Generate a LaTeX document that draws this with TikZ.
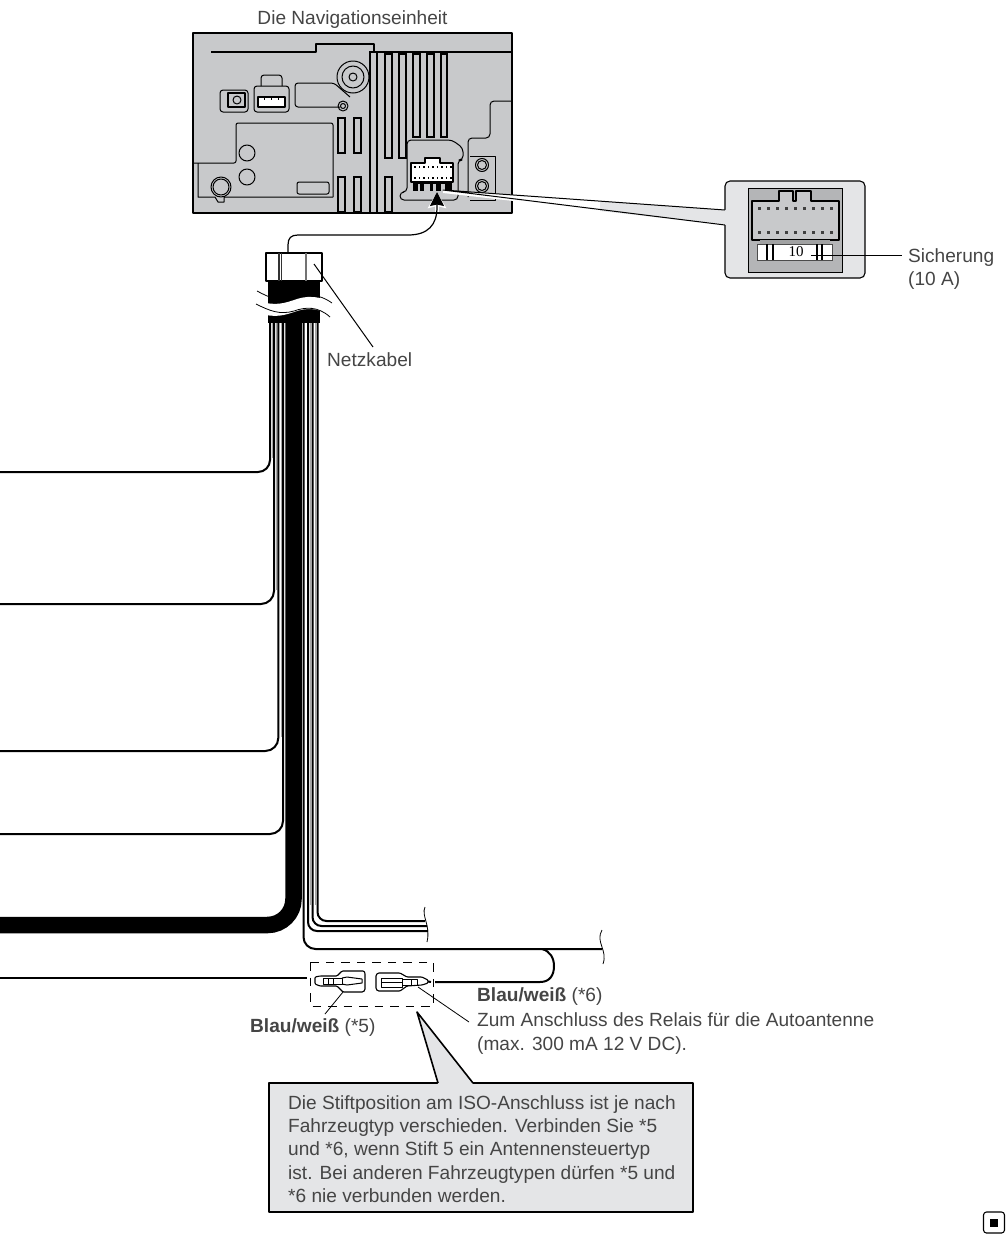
\documentclass[tikz,border=0pt]{standalone}
\usepackage{fontspec}
\setmainfont{Liberation Sans}
\newfontfamily\fuseface{Liberation Serif}
\usepackage{xcolor}
\usetikzlibrary{arrows.meta}
\usetikzlibrary{positioning}
\definecolor{unitgray}{HTML}{C8C9CB}
\definecolor{darkgray}{HTML}{B4B5B7}
\definecolor{boxgray}{HTML}{E4E5E7}
\definecolor{inkgray}{HTML}{454545}
\tikzset{
    label/.style={
        inner sep=0pt,
        anchor=west,
        align=left,
        text=inkgray,
        font=\fontsize{19.1}{23.2}\selectfont
    },
    part/.style={draw=black, line width=1pt, line join=round},
    slot/.style={draw=black, line width=2.4pt, fill=unitgray},
    wire/.style={draw=black, line width=2pt},
    stripe/.style={draw=black!35, line width=1pt},
    leader/.style={draw=black, line width=0.8pt},
    every edge/.style={draw, thick}
}

\begin{document}
\begin{tikzpicture}[x=1pt,y=-1pt]
  \useasboundingbox (0,0) rectangle (1006,1240);

  % Navigation unit
  \node[label,anchor=center] (unittitle) at (352.5,20) {Die Navigationseinheit};
  \node[part,fill=unitgray,line width=1.4pt,minimum width=319pt,minimum height=180pt,inner sep=0pt,outer sep=0pt] (unit) at (352.5,123) {};
  \draw[part,line width=1.2pt] (211,52) -- (316,52) -- (316,44) -- (374,44) -- (374,52) -- (512,52);

  % Slots
  \foreach \xa/\ya/\xb/\yb in {370/52/377/213, 385/54/392/158, 399/54/406/158, 413/54/420/137, 427/54/434/137, 441/54/447/137,
      338/118/345/153, 354/118/361/153, 338/177/345/212, 354/177/361/212, 385/177/392/212}
    \draw[slot] (\xa,\ya) rectangle (\xb,\yb);

  % Knob and small plugs
  \draw[part] (353,77) circle (16pt);
  \draw[part] (353,77) circle (11pt);
  \draw[part] (353,77) circle (4pt);
  \draw[part,rounded corners=3pt] (220,90) rectangle (248,112);
  \draw[part,line width=1.3pt] (228,93) rectangle (245,107);
  \draw[part] (237,100) circle (4pt);
  \draw[part,rounded corners=3pt] (261,86) -- (261,75) -- (282,75) -- (282,86);
  \draw[part,rounded corners=3pt] (254,86) rectangle (289,112);
  \draw[part,fill=white,line width=1.3pt] (258,97) rectangle (285,107);
  \foreach \x in {264,271,278}
    \draw[part] (\x,97) -- (\x,100);

  % Panels
  \draw[part,rounded corners=3pt] (340,107) -- (295,107) -- (295,83) -- (334,83) -- (350,97);
  \draw[part] (343,106) circle (5pt);
  \draw[part] (343,106) circle (2.5pt);
  \draw[part,rounded corners=2pt] (193,163) -- (236,163) -- (236,123) -- (333,123) -- (333,197);
  \draw[part] (247,153) circle (8pt);
  \draw[part] (247,177) circle (8pt);
  \draw[part] (221,187) circle (10pt);
  \draw[part] (221,187) circle (8pt);
  \draw[part] (198,163) -- (198,197) -- (215,197) -- (218,202) -- (224,202) -- (224,197) -- (333,197);
  \draw[part,fill=unitgray,rounded corners=2pt] (297,182) rectangle (329,194);
  \draw[part,rounded corners=4pt] (400,200) -- (400,192) -- (407,192) -- (407,140) -- (452,140) -- (463,148) -- (463,160) -- (458,160) -- (458,200) -- cycle;
  \draw[part,rounded corners=4pt] (468,197) -- (468,138) -- (490,138) -- (490,101) -- (512,101);
  \draw[part] (470,156) -- (495,156) -- (495,200) -- (470,200);
  \foreach \y in {165,186} {
    \draw[part] (482,\y) circle (6.5pt);
    \draw[part] (482,\y) circle (4.5pt);
  }

  % Port on the unit
  \draw[part,fill=white,line width=1.2pt] (411,163) -- (425,163) -- (425,158) -- (440,158) -- (440,163) -- (453,163) -- (453,182) -- (411,182) -- cycle;
  \foreach \x in {414,418.5,...,450} {
    \fill[black] (\x,166) rectangle ++(1.6,1.6);
    \fill[black] (\x,177) rectangle ++(1.6,1.6);
  }
  \fill[black] (413,182) rectangle (452,191);
  \foreach \xa/\xb in {418/420, 424/430, 433/436, 441/445}
    \fill[unitgray] (\xa,184) rectangle (\xb,191);

  % Callout with the fuse
  \node[part,fill=boxgray,rounded corners=5pt,line width=1.1pt,minimum width=140pt,minimum height=97pt,inner sep=0pt,outer sep=0pt] (fusebox) at (795,229.5) {};
  \coordinate (porttip) at (443,190);
  \fill[white] (porttip) -- (725,210) -- (725,225) -- (443,193) -- cycle;
  \fill[boxgray] (600,201) -- (726.5,210) -- (726.5,225) -- (600,211) -- cycle;
  \draw[part] (725,210) -- (porttip) -- (725,225);
  \node[draw=black,line width=0.6pt,fill=darkgray,minimum width=94pt,minimum height=84pt,inner sep=0pt,outer sep=0pt] (fuseback) at (795,230) {};
  \draw[part,fill=unitgray,line width=1.2pt] (752,201) -- (779,201) -- (779,191) -- (793,191) -- (793,201) -- (796,201) -- (796,191) -- (811,191) -- (811,201) -- (839,201) -- (839,240) -- (752,240) -- cycle;
  \foreach \x in {758,767,...,830} {
    \fill[black!75] (\x,207) rectangle ++(3,3);
    \fill[black!75] (\x,231) rectangle ++(3,3);
  }
  \fill[unitgray!80!black] (760,240) rectangle (830,244);
  \node[draw=black!70,line width=0.6pt,fill=white,minimum width=75pt,minimum height=16pt,inner sep=0pt,outer sep=0pt] (fuse) at (794.5,252) {};
  \node[inner sep=0pt,font=\fuseface\fontsize{15}{15}\selectfont] (fusevalue) at (796,252) {10};
  \foreach \x in {767,773,817,822}
    \draw[black,line width=1.1pt] (\x,244) -- (\x,260);
  \node[label] (fuselabel) at (908,269) {Sicherung\\(10 A)};
  \coordinate (fuseend) at (811,255);
  \draw[leader] (fuseend) -- (902,255);

  % Plug of the power cable
  \node[part,fill=white,line width=1.4pt,minimum width=56pt,minimum height=28pt,inner sep=0pt,outer sep=0pt] (plug) at (294,267) {};
  \draw[line width=1.1pt,black!80] (279,253) -- (279,281);
  \draw[line width=1.1pt,black!80] (281.5,253) -- (281.5,281);
  \draw[line width=2pt,black!55] (306,253) -- (306,281);
  \fill[black] (268,281) rectangle (320,323);

  % Break in the sleeve
  \fill[white] (250,298) .. controls (270,306) and (280,305) .. (294,300) .. controls (305,296) and (318,294) .. (340,306)
    -- (340,320) .. controls (318,306) and (305,308) .. (294,312) .. controls (280,317) and (270,318) .. (250,310) -- cycle;
  \draw[leader] (257,291) .. controls (270,298) and (280,302) .. (294,298) .. controls (305,294) and (318,293) .. (332,303);
  \draw[leader] (256,304) .. controls (270,311) and (280,315) .. (294,311) .. controls (305,307) and (318,306) .. (330,317);

  \node[label] (cablelabel) at (327,360) {Netzkabel};
  \coordinate (cablelead) at (373,347);
  \coordinate (cableend) at (314,264);
  \draw[leader,line width=1pt] (cableend) -- (cablelead);

  % Arrow to the port
  \coordinate (plugtop) at (288,252);
  \coordinate (portarrow) at (437,192);
  \draw[white,line width=3.5pt,-{Stealth[length=16pt,width=18pt,inset=2pt]}] (437,212) -- (portarrow);
  \draw[line width=1.2pt,-{Stealth[length=14pt,width=14pt,inset=1.5pt]}] (plugtop) -- (288,245) .. controls (288,238) and (291,235) .. (298,235) -- (408,235) .. controls (428,235) and (437,225) .. (437,207) -- (portarrow);

  % Wires to the left
  \coordinate (wireA) at (0,472);
  \coordinate (wireB) at (0,604);
  \coordinate (wireC) at (0,751);
  \coordinate (wireD) at (0,834);
  \coordinate (wireE) at (0,925);
  \coordinate (wireF) at (0,978);
  \foreach \x/\yy in {272.2/458, 276.6/590, 281/737}
    \draw[stripe] (\x,323) -- (\x,\yy);
  \draw[wire,rounded corners=12pt] (wireA) -- (270,472) -- (270,323);
  \draw[wire,rounded corners=13pt] (wireB) -- (274,604) -- (274,323);
  \draw[wire,rounded corners=13pt] (wireC) -- (278.3,751) -- (278.3,323);
  \draw[wire,rounded corners=13pt] (wireD) -- (283,834) -- (283,323);
  \draw[line width=16.5pt,rounded corners=26pt] (wireE) -- (293.5,925) -- (293.5,323);

  % Wires to the right
  \coordinate (wireG) at (425,921);
  \coordinate (wireH) at (427,926);
  \coordinate (wireI) at (428,931);
  \coordinate (wireJ) at (602,949);
  \foreach \x in {310.6,315.4}
    \draw[stripe] (\x,323) -- (\x,905);
  \draw[wire,rounded corners=9pt] (wireI) -- (308,931) -- (308,323);
  \draw[wire,rounded corners=9pt] (wireH) -- (312.5,926) -- (312.5,323);
  \draw[wire,rounded corners=9pt] (wireG) -- (317.5,921) -- (317.5,323);
  \draw[wire,rounded corners=12pt] (wireJ) -- (303.5,949) -- (303.5,323);
  \draw[leader] (425,907) .. controls (421,916) and (431,925) .. (427,942);
  \draw[leader] (602,930) .. controls (595,942) and (608,950) .. (603,964);

  % Loop to the fuse connector
  \coordinate (plugB) at (431,982);
  \coordinate (plugA) at (307,978);
  \draw[wire] (wireF) -- (plugA);
  \draw[wire] (542,949) .. controls (550,951) and (554,958) .. (554,966) .. controls (554,975) and (550,982) .. (540,982) -- (435,982);

  % Blue/white plugs
  \draw[part,dashed,dash pattern=on 8.5pt off 7pt,line width=1pt] (310,962) rectangle (433,1006);
  \draw[part,fill=white,line width=1.1pt,rounded corners=1pt] (315,977) -- (320,976) -- (337,976) -- (342,971) -- (364,971) -- (365,973) -- (365,990) -- (363,992) -- (343,992) -- (337,986) -- (320,986) -- (315,984) -- cycle;
  \draw[part] (323,978) rectangle (342,984);
  \draw[part] (342,978) -- (347,977) -- (362,979) -- (362,983) -- (347,985) -- (342,984);
  \draw[part] (328,978) -- (328,984);
  \draw[part] (333,978) -- (333,984);
  \draw[part,fill=white,line width=1.1pt,rounded corners=1pt] (376,975) -- (378,973) -- (400,973) -- (407,977) -- (422,977) -- (428,980) -- (428,983) -- (422,985) -- (407,986) -- (400,991) -- (378,991) -- (376,989) -- cycle;
  \draw[part] (381,978) rectangle (402,987);
  \draw[part] (381,982.5) -- (402,982.5);
  \draw[part] (402,979) rectangle (417,985);
  \draw[part] (411,979) -- (411,985);
  \draw[wire] (428,981.5) -- (plugB);

  % Labels of the plugs
  \node[label] (bluefive) at (250,1028) {\textbf{Blau/weiß} (*5)};
  \node[label] (bluesix) at (477,997) {\textbf{Blau/weiß} (*6)};
  \node[label] (relaytext) at (477,1033.5) {Zum Anschluss des Relais für die Autoantenne\\(max. 300 mA 12 V DC).};
  \coordinate (plugfive) at (343,992);
  \coordinate (plugfiveend) at (325,1014);
  \coordinate (plugsix) at (418,987);
  \coordinate (plugsixend) at (469,1022);
  \draw[leader] (plugfive) -- (plugfiveend);
  \draw[leader] (plugsix) -- (plugsixend);

  % Note
  \node[part,fill=boxgray,line width=1.6pt,minimum width=424pt,minimum height=129pt,inner sep=0pt,outer sep=0pt] (note) at (481,1147.5) {};
  \coordinate (notetip) at (417,1012);
  \fill[boxgray] (notetip) -- (438,1084) -- (473,1084) -- cycle;
  \draw[line width=1.6pt,line join=round] (438,1083) -- (notetip) -- (473,1083);
  \node[label] (notetext) at (288,1149) {Die Stiftposition am ISO-Anschluss ist je nach\\Fahrzeugtyp verschieden. Verbinden Sie *5\\und *6, wenn Stift 5 ein Antennensteuertyp\\ist. Bei anderen Fahrzeugtypen dürfen *5 und\\*6 nie verbunden werden.};

  % End mark
  \node[part,rounded corners=3pt,line width=1.1pt,minimum width=21pt,minimum height=21pt,inner sep=0pt] (endmark) at (994,1222.5) {};
  \node[fill=black,minimum width=8pt,minimum height=8pt,inner sep=0pt] (endsquare) at (994,1222.5) {};
\end{tikzpicture}
\end{document}
